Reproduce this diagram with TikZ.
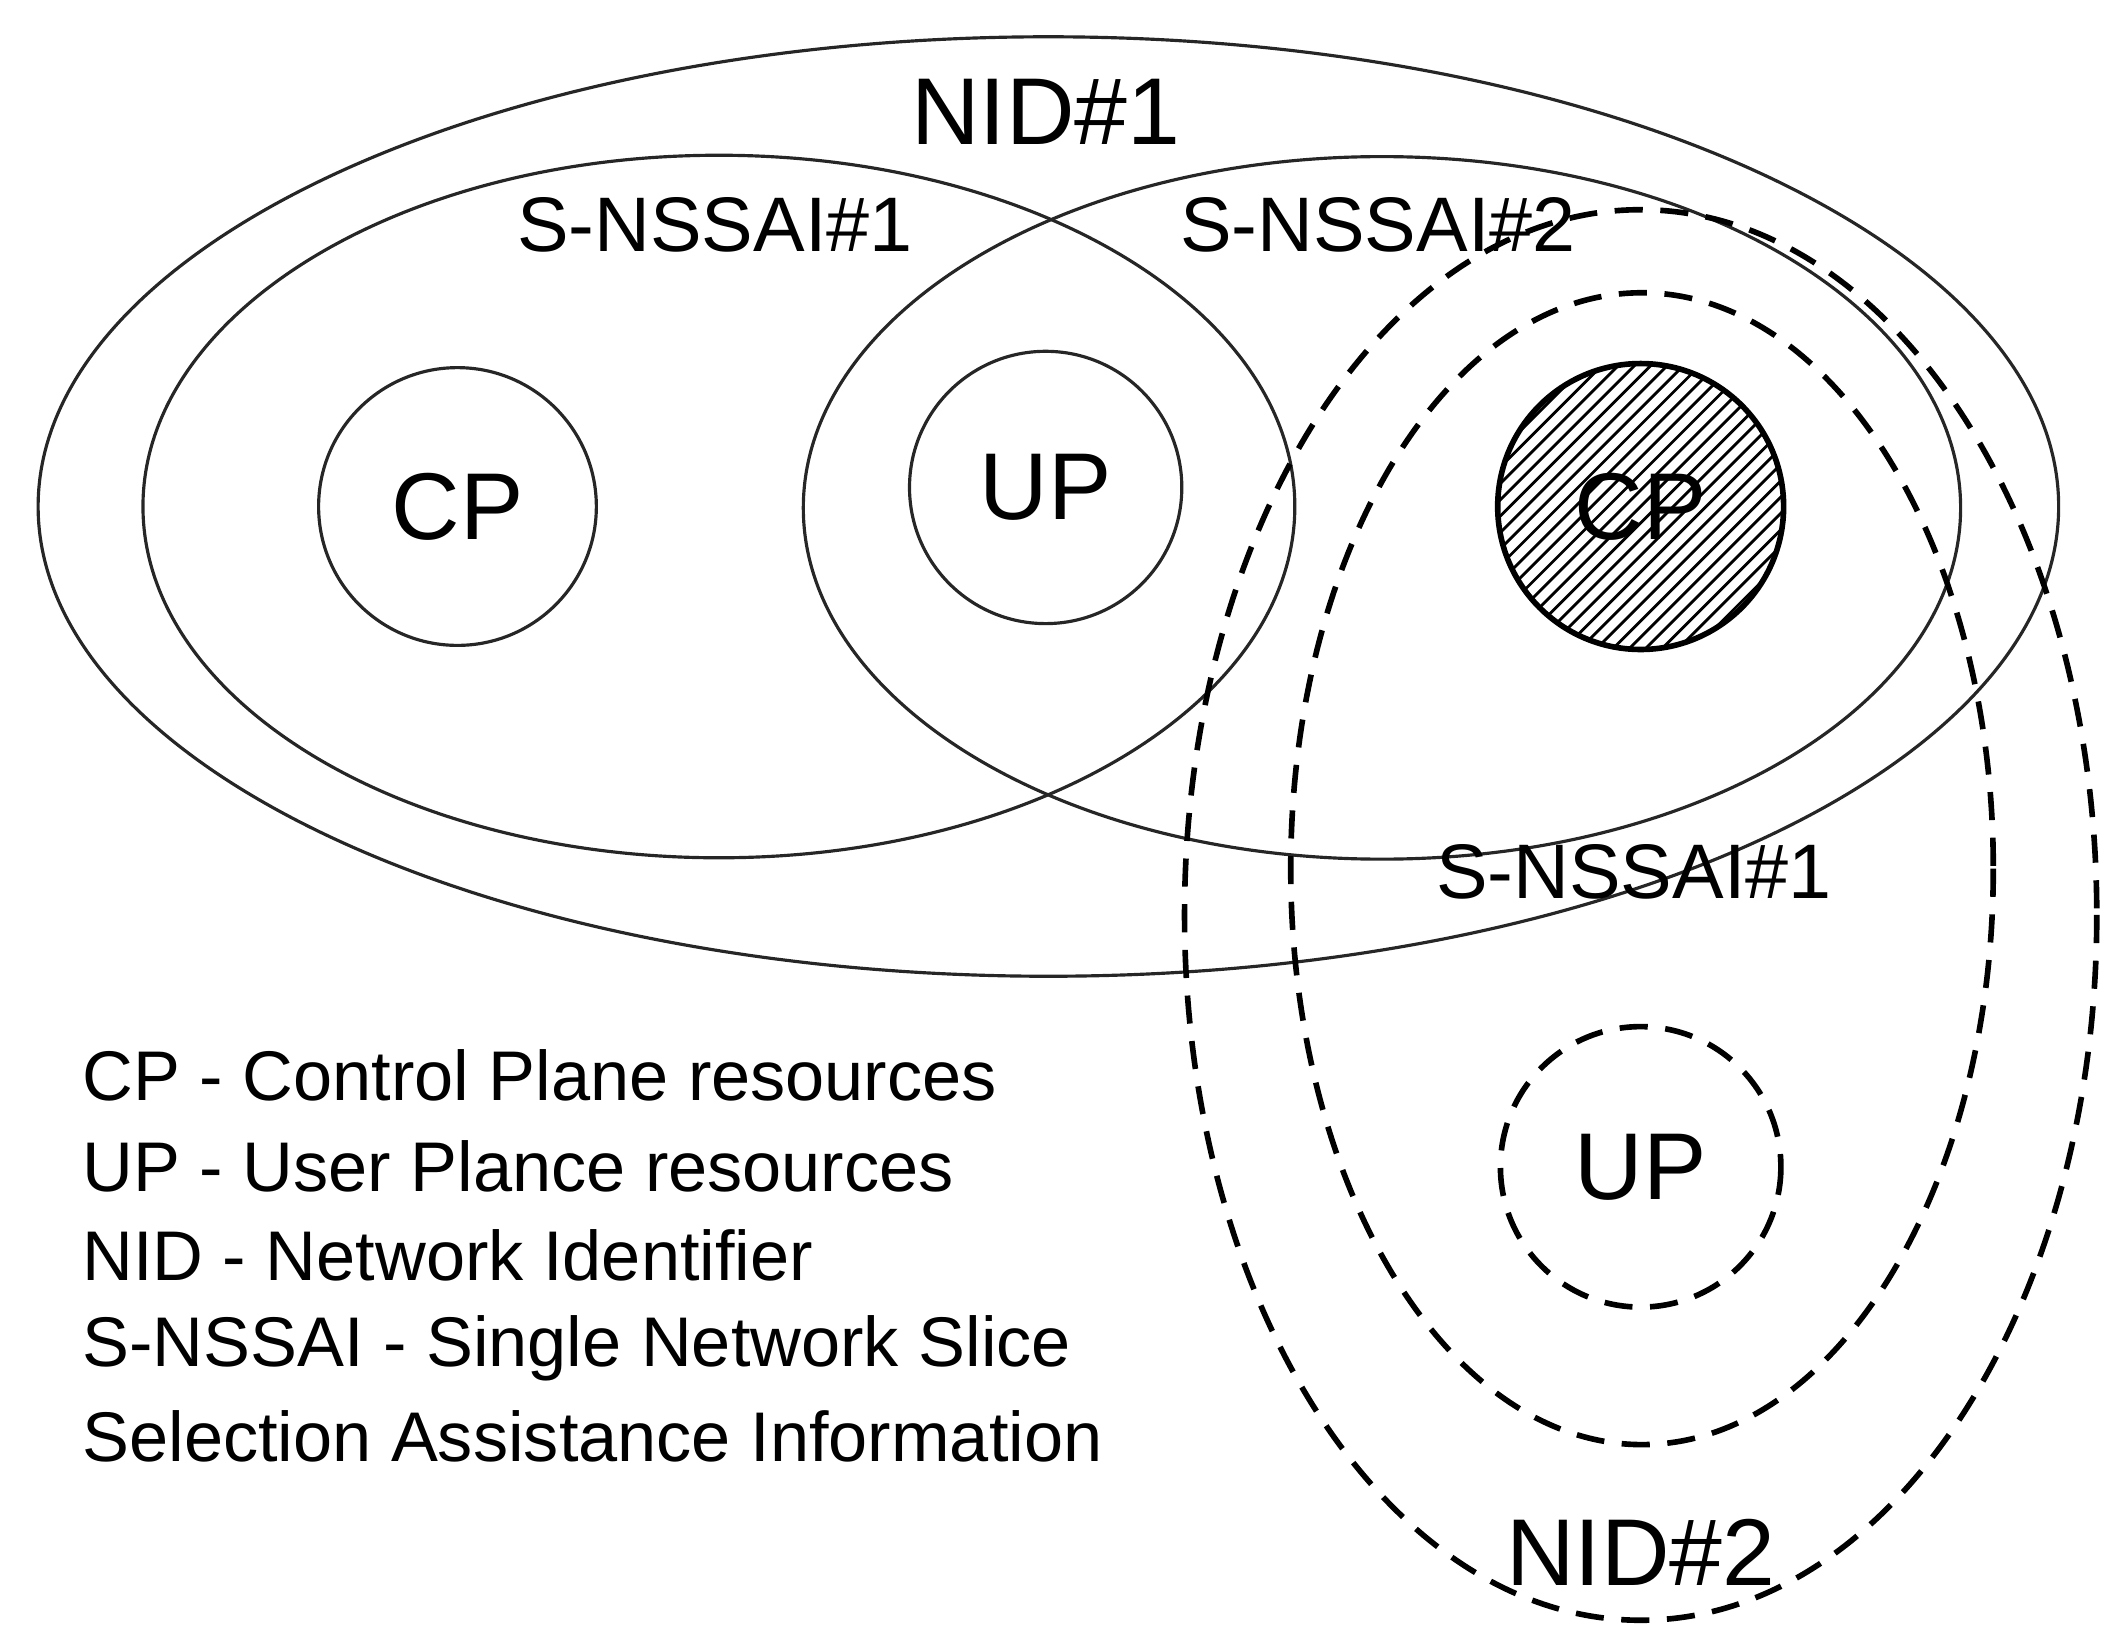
\documentclass[tikz,border=0pt]{standalone}
\usepackage{fontspec}
\setmainfont{Liberation Sans}
\tikzset{
  solidset/.style = {draw=black!85, line width=0.9pt},
  dashset/.style = {draw=black, line width=1.6pt, dash pattern=on 8pt off 5pt},
  biglabel/.style = {font=\fontsize{27}{30}\selectfont},
  setlabel/.style = {font=\fontsize{22}{25}\selectfont},
  legend/.style = {font=\fontsize{20}{24}\selectfont, anchor=west, inner sep=0pt},
}
\begin{document}
\begin{tikzpicture}[x=0.013615cm, y=-0.013615cm]
  \useasboundingbox (0,0) rectangle (1560,1210);
  % NID#1
  \draw[solidset] (770,372) ellipse ({742} and {345});
  \node[biglabel] (nid1) at (768,82) {NID\#1};
  % slices of NID#1
  \draw[solidset] (528,372) ellipse ({423} and {258});
  \draw[solidset] (1015,373) ellipse ({425} and {258});
  \node[setlabel] (sn1) at (525,165) {S-NSSAI\#1};
  \node[setlabel] (sn2) at (1012,165) {S-NSSAI\#2};
  \draw[solidset] (336,372) circle (102);
  \node[biglabel] (cp1) at (336,372) {CP};
  \draw[solidset] (768,358) circle (100);
  \node[biglabel] (up1) at (768,358) {UP};
  % shared CP (hatched)
  \begin{scope}
    \clip (1205,372) circle (105);
    \foreach \k in {-240,-228,...,240} {%
      \draw[line width=0.8pt] ({1205+\k-120},492) -- ({1205+\k+120},252);
    }
  \end{scope}
  \draw[line width=1.6pt] (1205,372) circle (105);
  \node[biglabel] (cp2) at (1205,372) {CP};
  % NID#2
  \draw[dashset] (1205,672) ellipse ({335} and {518});
  \draw[dashset] (1206,638) ellipse ({258} and {423});
  \draw[dashset] (1205,857) circle (103);
  \node[setlabel] (sn3) at (1200,640) {S-NSSAI\#1};
  \node[biglabel] (up2) at (1205,857) {UP};
  \node[biglabel] (nid2) at (1205,1140) {NID\#2};
  % legend
  \node[legend] (l1) at (60,790) {CP - Control Plane resources};
  \node[legend] (l2) at (60,857) {UP - User Plance resources};
  \node[legend] (l3) at (60,922) {NID - Network Identifier};
  \node[legend] (l4) at (60,990) {S-NSSAI - Single Network Slice};
  \node[legend] (l5) at (60,1055) {Selection Assistance Information};
\end{tikzpicture}
\end{document}
